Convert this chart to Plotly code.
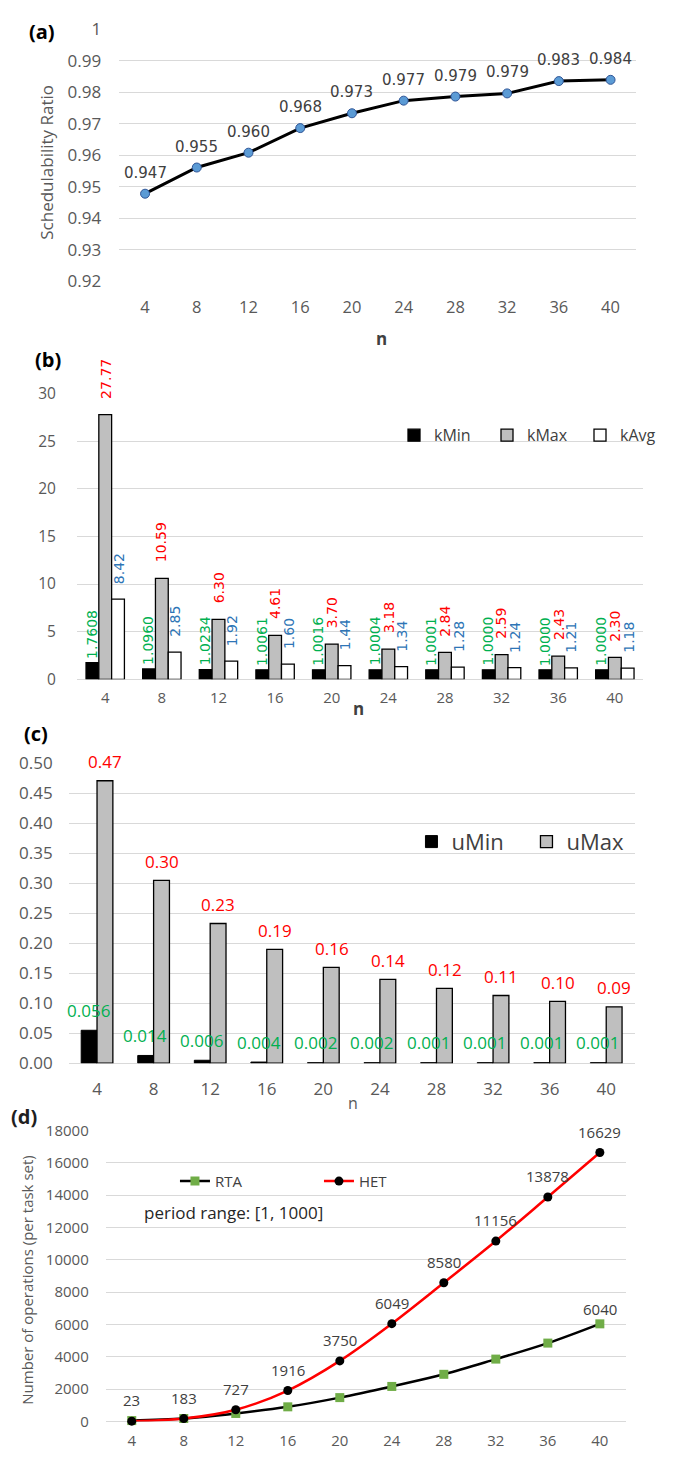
import plotly.graph_objects as go

W, H = 673, 1467
n_labels = ["4", "8", "12", "16", "20", "24", "28", "32", "36", "40"]

# (a) schedulability ratio (point heights) and printed labels
sched_ratio = [0.9478, 0.9561, 0.9608, 0.9686, 0.9733, 0.9773, 0.9786, 0.9796, 0.9835, 0.9839]
sched_labels = ["0.947", "0.955", "0.960", "0.968", "0.973", "0.977", "0.979", "0.979", "0.983", "0.984"]

# (b) k statistics
k_min = [1.7608, 1.0960, 1.0234, 1.0061, 1.0016, 1.0004, 1.0001, 1.0000, 1.0000, 1.0000]
k_max = [27.77, 10.59, 6.30, 4.61, 3.70, 3.18, 2.84, 2.59, 2.43, 2.30]
k_avg = [8.42, 2.85, 1.92, 1.60, 1.44, 1.34, 1.28, 1.24, 1.21, 1.18]

# (c) u statistics
u_min = [0.055, 0.013, 0.005, 0.002, 0.001, 0.001, 0.001, 0.001, 0.001, 0.001]
u_min_labels = ["0.056", "0.014", "0.006", "0.004", "0.002", "0.002", "0.001", "0.001", "0.001", "0.001"]
u_max = [0.471, 0.305, 0.233, 0.190, 0.160, 0.140, 0.125, 0.113, 0.103, 0.094]
u_max_labels = ["0.47", "0.30", "0.23", "0.19", "0.16", "0.14", "0.12", "0.11", "0.10", "0.09"]

# (d) number of operations
rta_ops = [60, 190, 500, 910, 1480, 2170, 2920, 3860, 4850, 6040]
het_ops = [23, 183, 727, 1916, 3750, 6049, 8580, 11156, 13878, 16629]


def px(x):
    return x / W


def py(y):
    return 1 - y / H


TICK = "#595959"
GRID = "#D9D9D9"
FONT = "Open Sans"
LBL = "DejaVu Sans"

# plot-area edges in pixels
A_X, B_X, C_X, D_X = (124, 662), (80, 669), (71.5, 660), (110, 651)
A_Y, B_Y, C_Y, D_Y = (17, 274), (387, 678), (763, 1068), (1136, 1432)
band_b = (B_X[1] - B_X[0]) / len(n_labels)
band_c = (C_X[1] - C_X[0]) / len(n_labels)

fig = go.Figure()
ann = []


def label(xref, yref, i, y, text, size, color, family, xshift=0, yshift=0,
          angle=0, yanchor="middle"):
    # i is the category index on the category axis
    ann.append(dict(text=text, x=i, y=y, xref=xref, yref=yref, xanchor="center",
                    yanchor=yanchor, xshift=xshift, yshift=yshift, textangle=angle,
                    showarrow=False, font=dict(family=family, size=size, color=color)))


# ---- (a)
fig.add_trace(go.Scatter(
    x=n_labels, y=sched_ratio, mode="lines+markers",
    line=dict(color="black", width=3),
    marker=dict(size=9, color="#5B9BD5", line=dict(color="#2F5597", width=1)),
    showlegend=False, xaxis="x", yaxis="y", cliponaxis=False))
for i, (yv, t) in enumerate(zip(sched_ratio, sched_labels)):
    label("x", "y", i, yv, t, 15, "#404040", LBL, yshift=21)

# ---- (b)
bw_b = 0.226
for vals, name, fill, tcol, off, fmt, ys in [
        (k_min, "kMin", "black", "#00B050", -1.5 * bw_b, "{:.4f}", 2),
        (k_max, "kMax", "#BFBFBF", "#FF0000", -0.5 * bw_b, "{:.2f}", 14),
        (k_avg, "kAvg", "white", "#2E75B6", 0.5 * bw_b, "{:.2f}", 13)]:
    fig.add_trace(go.Bar(
        x=n_labels, y=vals, name=name, width=bw_b, offset=off,
        marker=dict(color=fill, line=dict(color="black", width=1.3)),
        xaxis="x2", yaxis="y2", legend="legend"))
    for i, yv in enumerate(vals):
        label("x2", "y2", i, yv, fmt.format(yv), 14, tcol, LBL,
              xshift=(off + bw_b / 2) * band_b, yshift=ys, angle=-90, yanchor="bottom")

# ---- (c)
bw_c = 0.28
fig.add_trace(go.Bar(
    x=n_labels, y=u_min, name="uMin", width=bw_c, offset=-bw_c,
    marker=dict(color="black", line=dict(color="black", width=1)),
    xaxis="x3", yaxis="y3", legend="legend2"))
fig.add_trace(go.Bar(
    x=n_labels, y=u_max, name="uMax", width=bw_c, offset=0,
    marker=dict(color="#BFBFBF", line=dict(color="black", width=1.3)),
    xaxis="x3", yaxis="y3", legend="legend2"))
for i, (yv, t) in enumerate(zip(u_min, u_min_labels)):
    label("x3", "y3", i, yv, t, 17, "#00B050", FONT, xshift=-bw_c / 2 * band_c, yshift=20)
for i, (yv, t) in enumerate(zip(u_max, u_max_labels)):
    label("x3", "y3", i, yv, t, 17, "#FF0000", FONT, xshift=bw_c / 2 * band_c, yshift=19)

# ---- (d)
fig.add_trace(go.Scatter(
    x=n_labels, y=rta_ops, name="RTA", mode="lines+markers",
    line=dict(color="black", width=2.5, shape="spline"),
    marker=dict(symbol="square", size=9, color="#70AD47"),
    cliponaxis=False, xaxis="x4", yaxis="y4", legend="legend3"))
fig.add_trace(go.Scatter(
    x=n_labels, y=het_ops, name="HET", mode="lines+markers",
    line=dict(color="#FF0000", width=2.5, shape="spline"),
    marker=dict(symbol="circle", size=9, color="black"),
    cliponaxis=False, xaxis="x4", yaxis="y4", legend="legend3"))
for i, yv in enumerate(het_ops):
    label("x4", "y4", i, yv, str(yv), 15, "#404040", FONT, yshift=21)
label("x4", "y4", len(rta_ops) - 1, rta_ops[-1], str(rta_ops[-1]), 15, "#404040", FONT,
      yshift=15)


def xax(domain, anchor, size, standoff):
    return dict(domain=domain, anchor=anchor, type="category", range=[-0.5, 9.5],
                showgrid=False, showline=False, zeroline=False, ticks="",
                tickfont=dict(family=FONT, size=size, color=TICK),
                ticklabelstandoff=standoff, fixedrange=True)


def yax(domain, anchor, rng, dtick, size, fmt=None, standoff=18):
    d = dict(domain=domain, anchor=anchor, range=rng, dtick=dtick, tick0=0,
             showgrid=True, gridcolor=GRID, gridwidth=1, zeroline=True,
             zerolinecolor=GRID, zerolinewidth=1, showline=False, ticks="",
             tickfont=dict(family=FONT, size=size, color=TICK),
             ticklabelstandoff=standoff, fixedrange=True)
    if fmt:
        d["tickformat"] = fmt
    return d


fig.update_layout(
    width=W, height=H, margin=dict(l=0, r=0, t=0, b=0),
    paper_bgcolor="white", plot_bgcolor="white", barmode="overlay",
    font=dict(family=FONT, color=TICK),
    xaxis=xax([px(A_X[0]), px(A_X[1])], "y", 16.5, 14),
    yaxis=yax([py(A_Y[1]), py(A_Y[0])], "x", [0.9199, 1.0001], 0.01, 17, None, 17),
    xaxis2=xax([px(B_X[0]), px(B_X[1])], "y2", 15, 8),
    yaxis2=yax([py(B_Y[1]), py(B_Y[0])], "x2", [0, 30.05], 5, 15.5, None, 20),
    xaxis3=xax([px(C_X[0]), px(C_X[1])], "y3", 17, 14),
    yaxis3=yax([py(C_Y[1]), py(C_Y[0])], "x3", [0, 0.5005], 0.05, 17, ".2f", 15),
    xaxis4=xax([px(D_X[0]), px(D_X[1])], "y4", 15, 8),
    yaxis4=yax([py(D_Y[1]), py(D_Y[0])], "x4", [0, 18010], 2000, 15, "d", 16),
    legend=dict(x=px(410), y=py(430), xanchor="left", yanchor="middle",
                orientation="h", bgcolor="rgba(0,0,0,0)", entrywidth=48,
                font=dict(family=FONT, size=16, color="#404040")),
    legend2=dict(x=px(428), y=py(843), xanchor="left", yanchor="middle",
                 orientation="h", bgcolor="rgba(0,0,0,0)", entrywidth=70,
                 font=dict(family=FONT, size=22, color="#404040")),
    legend3=dict(x=px(182), y=py(1188), xanchor="left", yanchor="middle",
                 orientation="h", bgcolor="rgba(0,0,0,0)", entrywidth=99,
                 font=dict(family=FONT, size=15, color="#404040")),
)

texts = [
    dict(text="<b>(a)</b>", x=px(44), y=py(20), size=20, color="black"),
    dict(text="<b>(b)</b>", x=px(50), y=py(353), size=20, color="black"),
    dict(text="<b>(c)</b>", x=px(37), y=py(733), size=20, color="black"),
    dict(text="<b>(d)</b>", x=px(25), y=py(1122), size=20, color="#1F1F1F"),
    dict(text="<b>n</b>", x=px(397), y=py(332), size=17, color="#404040"),
    dict(text="<b>n</b>", x=px(373), y=py(708), size=17, color="#404040"),
    dict(text="n", x=px(367), y=py(1108), size=16, color=TICK),
    dict(text="Schedulability Ratio", x=px(48), y=py(153), size=17, color=TICK, angle=-90),
    dict(text="Number of operations (per task set)", x=px(28), y=py(1288), size=15,
         color=TICK, angle=-90),
    dict(text="period range: [1, 1000]", x=px(148), y=py(1220), size=17,
         color="#262626", xanchor="left"),
]
for a in texts:
    ann.append(dict(
        text=a["text"], x=a["x"], y=a["y"], xref="paper", yref="paper",
        xanchor=a.get("xanchor", "center"), yanchor="middle", showarrow=False,
        textangle=a.get("angle", 0),
        font=dict(family=FONT, size=a["size"], color=a["color"])))

fig.update_layout(annotations=ann)
fig.write_html("out.html")
